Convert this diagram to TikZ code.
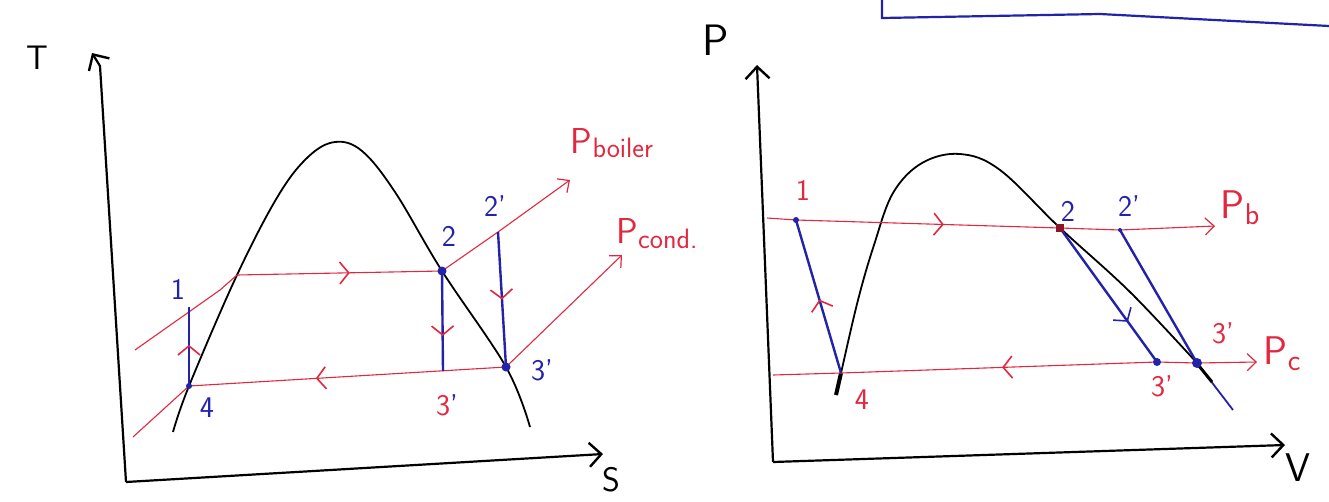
\documentclass[tikz,border=0pt]{standalone}
\usepackage{fontspec}
\usetikzlibrary{arrows.meta,decorations.markings,calc}
\definecolor{pred}{RGB}{226,40,62}
\definecolor{pblue}{RGB}{35,35,170}
\tikzset{
 redl/.style={draw=pred, line width=1.1pt},
 bluel/.style={draw=pblue, line width=2.4pt},
 blk/.style={draw=black, line width=1.8pt},
 axisl/.style={draw=black, line width=2.2pt, -{Straight Barb[length=12pt,width=24pt,line width=2.4pt]}},
 endtip/.style={-{Straight Barb[length=9pt,width=17pt,line width=1.2pt]}},
 midarr/.style 2 args={postaction={decorate}, decoration={markings, mark=at position #1 with {\arrow[#2,line width=1.6pt]{Straight Barb[length=9pt,width=22pt]}}}},
 lab/.style={inner sep=0pt, font=\sffamily\fontsize{30}{30}\selectfont},
 axlab/.style={inner sep=0pt, font=\sffamily\fontsize{34}{34}\selectfont},
}
\begin{document}
\begin{tikzpicture}[x=1pt,y=-1pt]
\useasboundingbox (0,0) rectangle (1329,501);
\fill[white] (0,0) rectangle (1329,501);

% ================= T-s diagram =================
\coordinate (Ts0) at (126,482);
\coordinate (TsT) at (92,53);
\coordinate (TsS) at (603,454);
\draw[axisl] (Ts0) -- (100,66) -- (TsT);
\draw[axisl] (Ts0) -- (TsS);
\node[axlab] (lT) at (37,58) {T};
\node[axlab] (lS) at (611,480) {S};

% dome
\draw[blk] plot[smooth, tension=0.6] coordinates {(173,432) (189,386) (237,275) (278,196) (308,157) (335,142) (362,151) (395,192) (442,271) (506,367) (530,427)};

% points
\coordinate (t1) at (189,307);
\coordinate (t4) at (189,386);
\coordinate (t2) at (442,271);
\coordinate (t2p) at (498,232);
\coordinate (t3pp) at (443,371);
\coordinate (t3p) at (506,367);
\coordinate (tA) at (135,350);
\coordinate (tB) at (220,290);
\coordinate (tC) at (237,275);
\coordinate (tPb) at (570,180);
\coordinate (tD) at (133,437);
\coordinate (tPc) at (622,255);

% red pressure lines
\draw[redl] (tA) -- (tB) -- (tC);
\draw[redl, midarr={0.55}{pred}] (tC) -- (t2);
\draw[redl, endtip] (t2) -- (t2p) -- (tPb);
\draw[redl] (tD) -- (t4);
\draw[redl, midarr={0.6}{pred}] (t3p) -- (t4);
\draw[redl, endtip] (t3p) -- (tPc);

% blue processes
\draw[bluel, midarr={0.52}{pred}] (t4) -- (t1);
\draw[bluel, midarr={0.65}{pred}] (t2) -- (t3pp);
\draw[bluel, midarr={0.5}{pred}] (t2p) -- (t3p);

\fill[pblue] (t2) circle (4.5pt);
\fill[pblue] (t3p) circle (4.5pt);
\fill[pblue] (t4) circle (3pt);

% labels
\node[lab, text=pblue] (l1) at (178,289) {1};
\node[lab, text=pblue] (l4) at (207,408) {4};
\node[lab, text=pblue] (l2) at (449,236) {2};
\node[lab, text=pblue] (l2p) at (495,206) {2'};
\node[lab, text=pblue] (l3p) at (542,370) {3'};
\node[lab] (l3pp) at (447,405) {{\color{pred}3}{\color{pblue}'}};
\node[lab, text=pred] (lPb) at (612,143) {{\fontsize{36}{36}\selectfont P}\raisebox{-4pt}{\fontsize{28}{28}\selectfont boiler}};
\node[lab, text=pred] (lPc) at (657,234) {{\fontsize{36}{36}\selectfont P}\raisebox{-5pt}{\fontsize{28}{28}\selectfont cond.}};

% ================= P-v diagram =================
\coordinate (Pv0) at (773,462);
\coordinate (PvP) at (757,65);
\coordinate (PvV) at (1285,445);
\draw[axisl] (Pv0) -- (PvP);
\draw[axisl] (Pv0) -- (PvV);
\node[axlab, font=\sffamily\fontsize{44}{44}\selectfont] (lP) at (716,40) {P};
\node[axlab, font=\sffamily\fontsize{40}{40}\selectfont] (lV) at (1298,468) {V};

% dome
\draw[blk] plot[smooth, tension=0.6] coordinates {(836,395) (841,373) (858,300) (874,245) (893,193) (922,163) (960,154) (1000,170) (1060,228) (1130,292) (1197,363)};
\draw[draw=pblue, line width=1.8pt] (1197,363) -- (1233,410);
\draw[line width=3pt] (1199,366) -- (1212,382);
\draw[line width=4pt] (836,395) -- (841,373);

\coordinate (v1) at (796,220);
\coordinate (v4) at (841,373);
\coordinate (v2) at (1060,228);
\coordinate (v2p) at (1120,230);
\coordinate (v3pp) at (1157,362);
\coordinate (v3p) at (1197,363);
\coordinate (vA) at (767,218);
\coordinate (vPb) at (1215,226);
\coordinate (vB) at (773,375);
\coordinate (vPc) at (1257,362);

% red pressure lines
\draw[redl] (vA) -- (v1);
\draw[redl, midarr={0.56}{pred}] (v1) -- (v2);
\draw[redl, endtip] (v2) -- (v2p) -- (vPb);
\draw[redl] (vB) -- (v4);
\draw[redl, midarr={0.49}{pred}] (v3pp) -- (v4);
\draw[redl, endtip] (v3pp) -- (v3p) -- (vPc);

% blue processes
\draw[bluel, midarr={0.48}{pred}] (v4) -- (v1);
\draw[bluel, midarr={0.7}{pblue}] (v2) -- (v3pp);
\draw[bluel] (v2p) -- (v3p);

\fill[pblue] (v1) circle (3pt);
\fill[pred!60!black] ($(v2)+(-4,-4)$) rectangle ($(v2)+(4,4)$);
\fill[pblue] (v2p) circle (2pt);
\fill[pblue] (v3pp) circle (4pt);
\fill[pblue] (v3p) circle (5pt);

% labels
\node[lab, text=pred] (m1) at (803,190) {1};
\node[lab, text=pred] (m4) at (862,400) {4};
\node[lab, text=pblue] (m2) at (1068,211) {2};
\node[lab, text=pblue] (m2p) at (1129,206) {2'};
\node[lab, text=pred] (m3p) at (1223,333) {3'};
\node[lab, text=pred] (m3pp) at (1162,386) {3'};
\node[lab, text=pred] (mPb) at (1240,208) {{\fontsize{40}{40}\selectfont P}\raisebox{-6pt}{b}};
\node[lab, text=pred] (mPc) at (1282,354) {{\fontsize{40}{40}\selectfont P}\raisebox{-6pt}{c}};

% blue frame fragment at top
\draw[draw=pblue, line width=2.2pt] (882,0) -- (882,18) -- (1100,14) -- (1329,26);
\end{tikzpicture}
\end{document}
